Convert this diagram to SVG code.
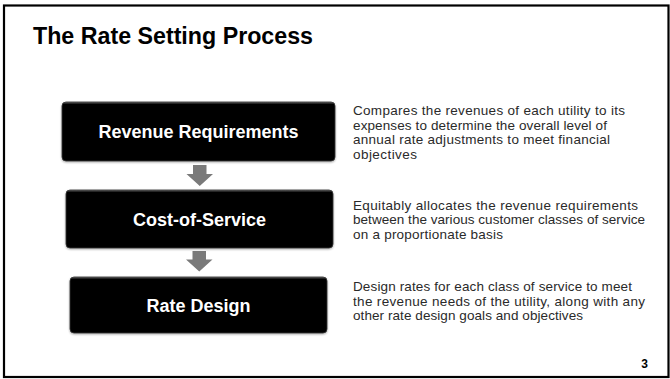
<svg xmlns="http://www.w3.org/2000/svg" width="670" height="379" viewBox="0 0 670 379">
<defs>
<linearGradient id="boxg" x1="0" y1="0" x2="0" y2="1">
<stop offset="0" stop-color="#6a6a6a"/>
<stop offset="0.04" stop-color="#000"/>
<stop offset="1" stop-color="#000"/>
</linearGradient>
<filter id="sh" x="-5%" y="-10%" width="110%" height="125%">
<feGaussianBlur in="SourceAlpha" stdDeviation="1"/>
<feOffset dx="0" dy="1" result="b"/>
<feComponentTransfer><feFuncA type="linear" slope="0.35"/></feComponentTransfer>
<feMerge><feMergeNode/><feMergeNode in="SourceGraphic"/></feMerge>
</filter>
</defs>
<style>
.box{fill:url(#boxg);stroke:#333;stroke-width:0.8;filter:url(#sh)}
.lbl{font-family:"Liberation Sans",Arial,sans-serif;font-weight:bold;font-size:18px;fill:#fff;text-anchor:middle}
.desc{font-family:"Liberation Sans",Arial,sans-serif;font-size:13.5px;fill:#2a2a2a}
.arr{fill:#7a7a7a}
</style>
<rect x="0" y="0" width="670" height="379" fill="#fff"/>
<rect x="4" y="5.5" width="664.5" height="371.5" fill="none" stroke="#000" stroke-width="2.2"/>
<text x="33" y="44" font-family="'Liberation Sans',Arial,sans-serif" font-weight="bold" font-size="23" fill="#000" textLength="280" lengthAdjust="spacingAndGlyphs">The Rate Setting Process</text>

<g id="connectors">
<polygon class="arr" points="193,165 206.5,165 206.5,174 213,174 199.75,186 186.5,174 193,174"/>
<polygon class="arr" points="192.5,251 206,251 206,259.5 212.5,259.5 199.25,271.5 186,259.5 192.5,259.5"/>
</g>

<g id="node-revenue">
<rect class="box" x="62" y="102" width="273" height="59" rx="4"/>
<text class="lbl" x="198.5" y="138">Revenue Requirements</text>
</g>
<g id="node-cos">
<rect class="box" x="66" y="190" width="267" height="58" rx="4"/>
<text class="lbl" x="199.5" y="225.5">Cost-of-Service</text>
</g>
<g id="node-rate">
<rect class="box" x="70" y="277" width="257" height="56" rx="4"/>
<text class="lbl" x="198.5" y="311.5">Rate Design</text>
</g>

<g id="desc-revenue" class="desc">
<text x="353" y="115" textLength="272" lengthAdjust="spacing">Compares the revenues of each utility to its</text>
<text x="353" y="129.5" textLength="254" lengthAdjust="spacing">expenses to determine the overall level of</text>
<text x="353" y="144" textLength="257" lengthAdjust="spacing">annual rate adjustments to meet financial</text>
<text x="353" y="158.5" textLength="64" lengthAdjust="spacing">objectives</text>
</g>
<g id="desc-cos" class="desc">
<text x="353" y="209.5" textLength="285" lengthAdjust="spacing">Equitably allocates the revenue requirements</text>
<text x="353" y="224" textLength="292" lengthAdjust="spacing">between the various customer classes of service</text>
<text x="353" y="238.5" textLength="150" lengthAdjust="spacing">on a proportionate basis</text>
</g>
<g id="desc-rate" class="desc">
<text x="353" y="291" textLength="279" lengthAdjust="spacing">Design rates for each class of service to meet</text>
<text x="353" y="305.5" textLength="292" lengthAdjust="spacing">the revenue needs of the utility, along with any</text>
<text x="353" y="320" textLength="230" lengthAdjust="spacing">other rate design goals and objectives</text>
</g>

<text x="648" y="368" text-anchor="end" font-family="'Liberation Sans',Arial,sans-serif" font-weight="bold" font-size="12" fill="#000">3</text>
</svg>
